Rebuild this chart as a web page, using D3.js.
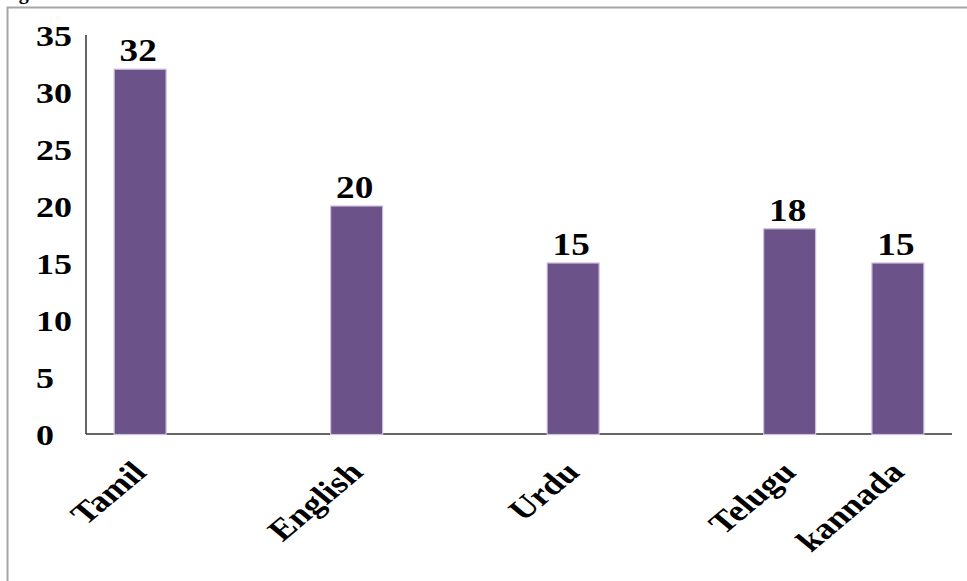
<!DOCTYPE html>
<html>
<head>
<meta charset="utf-8">
<script src="https://cdn.jsdelivr.net/npm/d3@7"></script>
<style>
  html, body { margin: 0; padding: 0; background: #fff; }
  svg { display: block; }
</style>
</head>
<body>
<svg id="chart" width="967" height="581"></svg>
<script>
// ---- data ----
const categories = ["Tamil", "", "English", "", "Urdu", "", "Telugu", "kannada"];
const values = [32, null, 20, null, 15, null, 18, 15];
const yTicks = [0, 5, 10, 15, 20, 25, 30, 35];
const yMax = 35;

// ---- layout ----
const W = 967, H = 581;
const plot = { left: 86, right: 952, top: 35, bottom: 434 };
const stretch = 1.2; // the reference image is stretched horizontally
const barColor = "#6b5289";
const FONT = "'Liberation Serif', Tinos, 'Times New Roman', Times, serif";

const svg = d3.select("#chart")
  .attr("font-family", FONT).attr("font-weight", "bold");

// outer frame
svg.append("path")
  .attr("d", `M7.5,${H + 2} V7.5 H${W + 2}`)
  .attr("fill", "none").attr("stroke", "#a6a6a6").attr("stroke-width", 2);

// caption above the frame (cut off at the top, as in the reference)
svg.append("text").attr("x", 1).attr("y", -1)
  .attr("font-size", 20).text("Fig");

const x = d3.scaleBand()
  .domain(d3.range(categories.length))
  .range([plot.left, plot.right])
  .paddingInner(0.52).paddingOuter(0.26);

const y = d3.scaleLinear().domain([0, yMax]).range([plot.bottom, plot.top]);

// axes lines
svg.append("line")
  .attr("x1", plot.left).attr("x2", plot.left)
  .attr("y1", y(yMax)).attr("y2", y(0))
  .attr("stroke", "#333").attr("stroke-width", 1.5);
svg.append("line")
  .attr("x1", plot.left).attr("x2", plot.right)
  .attr("y1", y(0)).attr("y2", y(0))
  .attr("stroke", "#333").attr("stroke-width", 1.5);

// y tick labels (left aligned)
svg.append("g").selectAll("text")
  .data(yTicks).join("text")
  .attr("transform", d => `translate(36,${y(d) + 11}) scale(${stretch},1)`)
  .attr("text-anchor", "start")
  .attr("font-size", 30)
  .text(d => d);

const data = categories.map((c, i) => ({ c, v: values[i], i })).filter(d => d.v != null);

// bars
svg.append("g").selectAll("rect")
  .data(data).join("rect")
  .attr("x", d => x(d.i))
  .attr("y", d => y(d.v))
  .attr("width", x.bandwidth())
  .attr("height", d => y(0) - y(d.v) + 0.5)
  .attr("fill", barColor)
  .attr("stroke", "#cdbfe0").attr("stroke-width", 1.2);

// value labels
svg.append("g").selectAll("text")
  .data(data).join("text")
  .attr("transform", d => `translate(${x(d.i) + x.bandwidth() / 2 - 2},${y(d.v) - 8}) scale(${stretch},1)`)
  .attr("text-anchor", "middle")
  .attr("font-size", 31)
  .text(d => d.v);

// category labels, rotated
svg.append("g").selectAll("text")
  .data(data).join("text")
  .attr("transform", d => `translate(${x(d.i) + x.bandwidth() / 2 + 8},${plot.bottom + 40}) scale(${stretch},1) rotate(-45)`)
  .attr("text-anchor", "end")
  .attr("font-size", 30)
  .text(d => d.c);
</script>
</body>
</html>
